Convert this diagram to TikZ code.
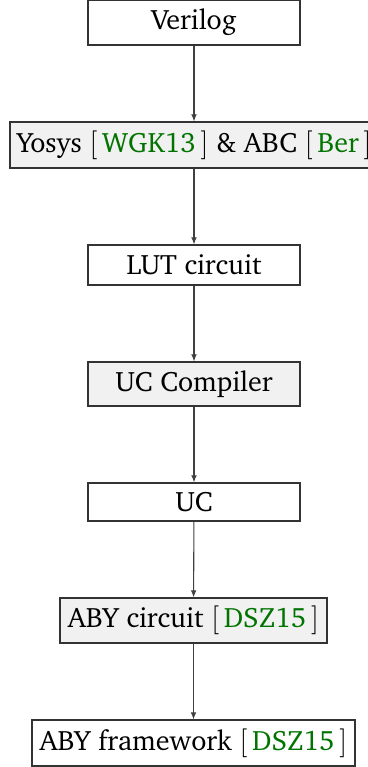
\documentclass[tikz,border=0pt]{standalone}
\usepackage[T1]{fontenc}
\renewcommand\rmdefault{bch}
\usetikzlibrary{arrows.meta}
\definecolor{citegreen}{rgb}{0,0.45,0}
\definecolor{boxfill}{gray}{0.945}
\newcommand{\cit}[1]{$[$\,\textcolor{citegreen}{#1}\,$]$}
\begin{document}
\begin{tikzpicture}[x=0.4167pt,y=-0.4167pt,
  font=\fontsize{11.7}{14}\selectfont,
  stepbox/.style={draw=black!80,line width=0.45pt,inner sep=0pt,minimum height=#1*0.4167pt},
  wide/.style={minimum width=212*0.4167pt},
  filled/.style={fill=boxfill},
  flow/.style={draw=black!75,line width=0.45pt,-{Latex[length=3pt,width=2.4pt]}}]
\useasboundingbox (0,0) rectangle (368,767);
\node[stepbox=45,wide] (verilog) at (194,22.5) {Verilog};
\node[stepbox=46,filled,minimum width=368*0.4167pt] (yosys) at (194,145) {Yosys \cit{WGK13} \& ABC \cit{Ber}};
\node[stepbox=40,wide] (lut) at (194,265) {LUT circuit};
\node[stepbox=44,wide,filled] (ucc) at (194,384) {UC Compiler};
\node[stepbox=38,wide] (uc) at (194,502) {UC};
\node[stepbox=45,filled,minimum width=267*0.4167pt] (aby) at (193.5,620.5) {ABY circuit \cit{DSZ15}};
\node[stepbox=46,minimum width=323*0.4167pt] (abyf) at (193.5,743) {ABY framework \cit{DSZ15}};
\draw[flow] (verilog) -- (yosys);
\draw[flow] (yosys) -- (lut);
\draw[flow] (lut) -- (ucc);
\draw[flow] (ucc) -- (uc);
\draw[flow] (uc) -- (aby);
\draw[flow] (aby) -- (abyf);
\end{tikzpicture}
\end{document}
